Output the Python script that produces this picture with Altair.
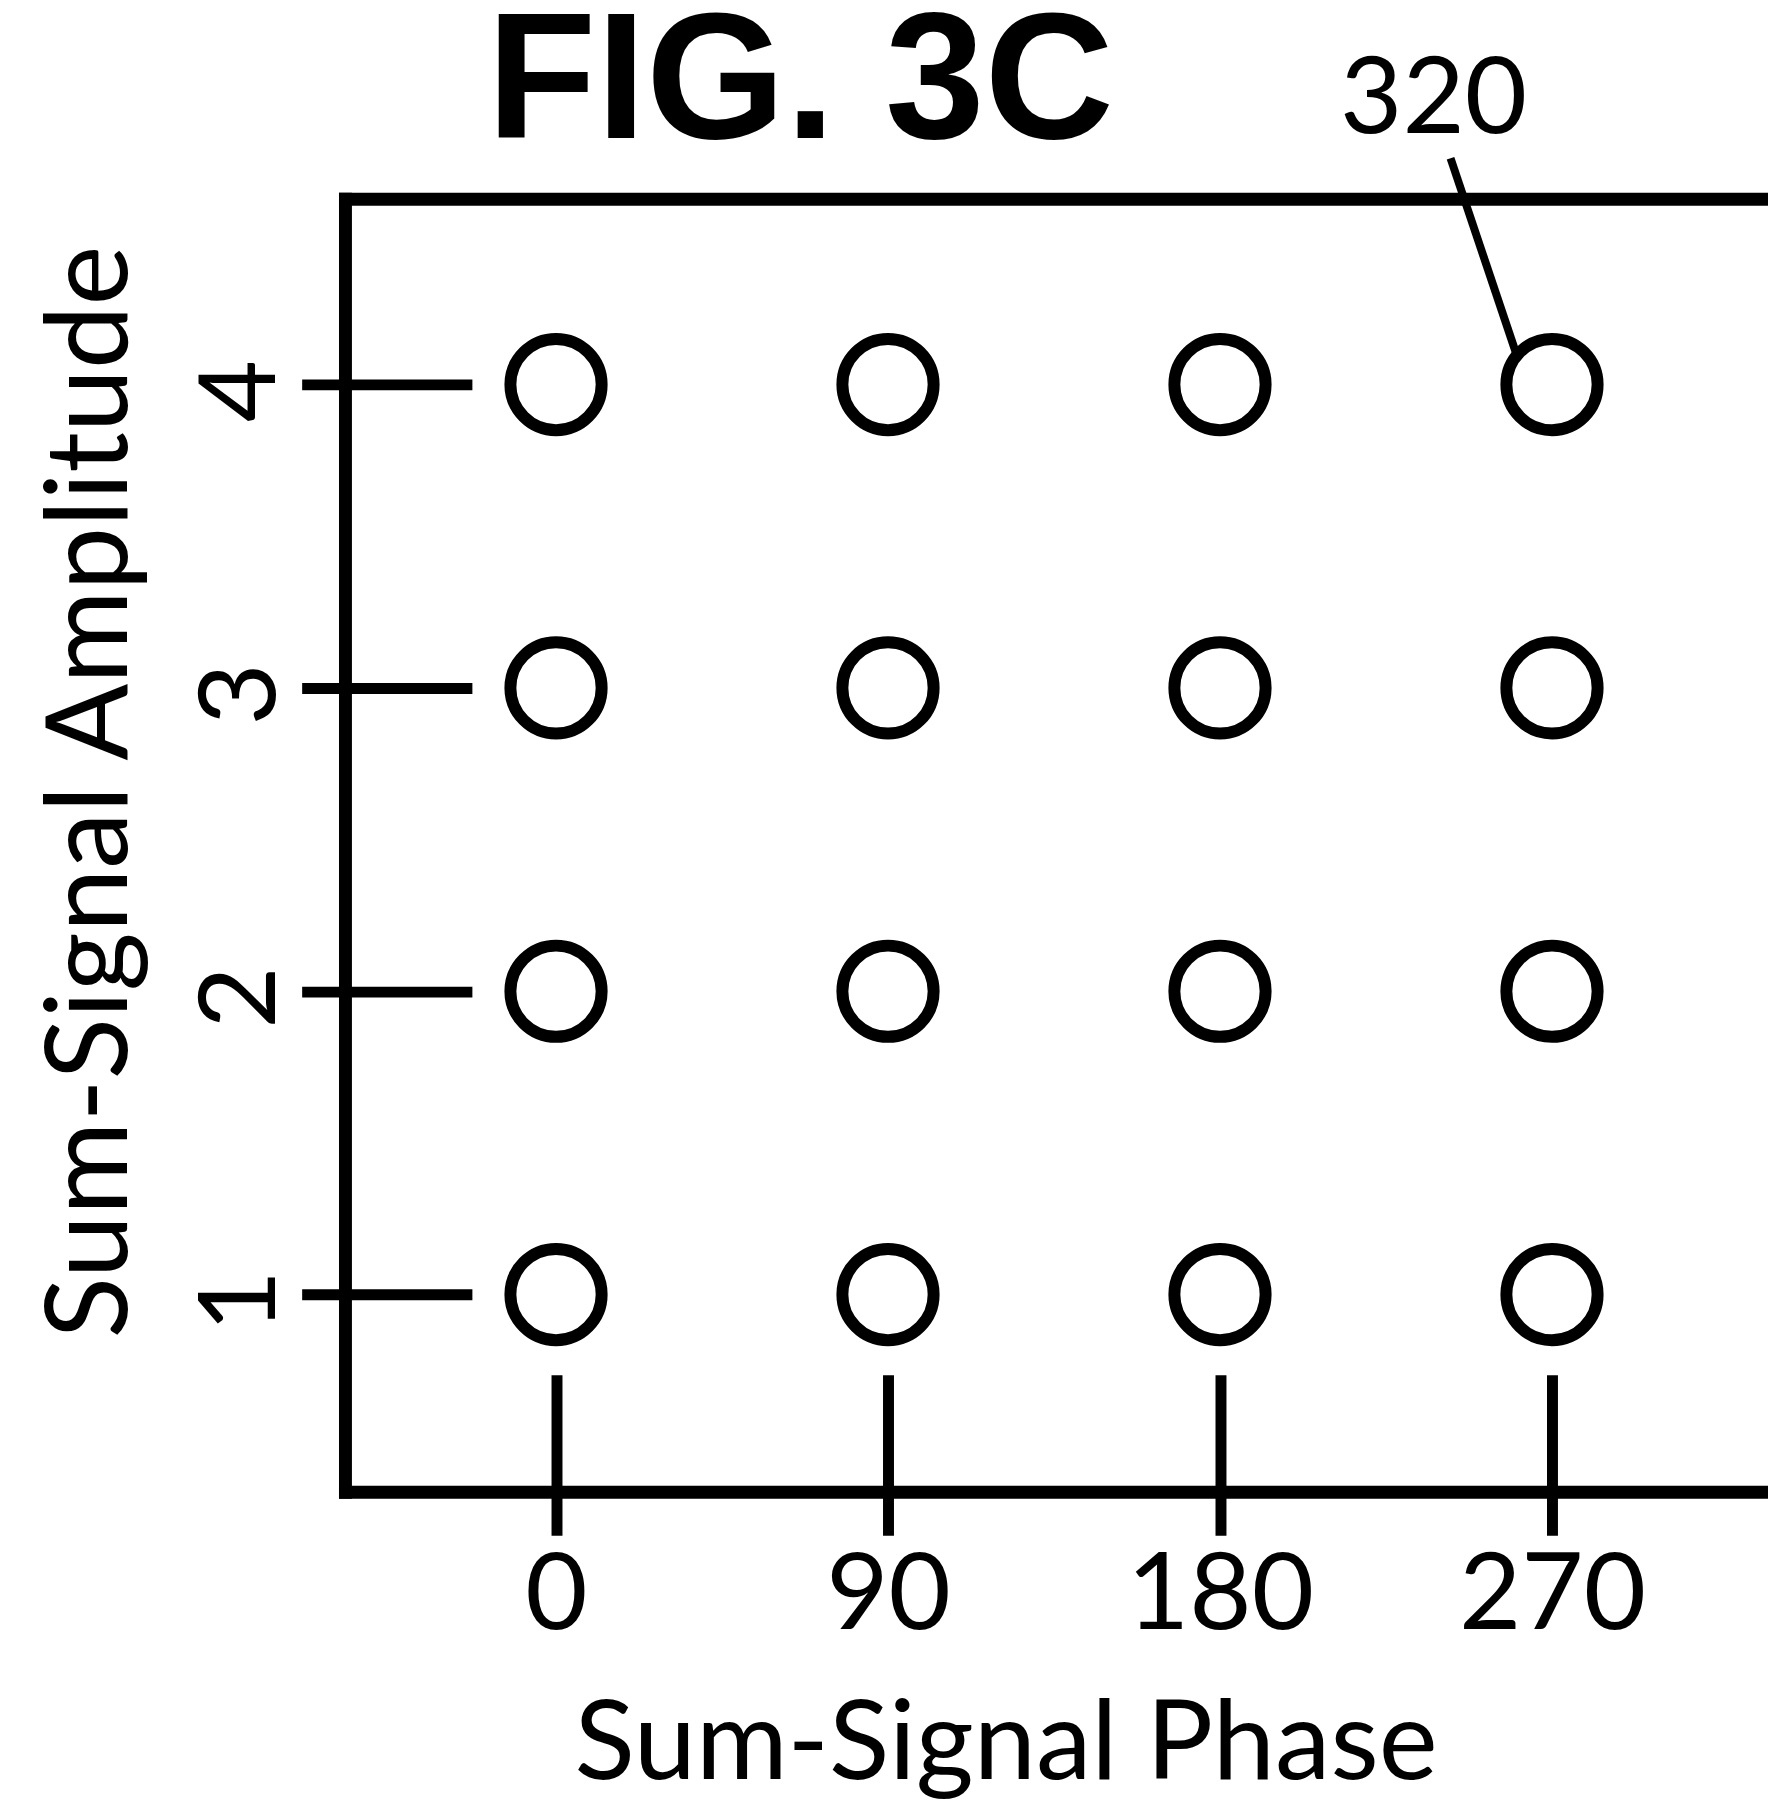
import altair as alt
import pandas as pd

# ---- data ----
phases = [0, 90, 180, 270]            # Sum-Signal Phase (deg)
amplitudes = [1, 2, 3, 4]             # Sum-Signal Amplitude levels
x_ticks = [0, 90, 180, 270]
y_ticks = [1, 2, 3, 4]
x_domain = [-57.08, 328.56]
y_domain = [0.348, 4.611]
callout_label = ["320"]
callout_text_at = [237.9, 4.828]       # phase, amplitude of the label
callout_line_from = [242.5, 4.746]     # leader line start (phase, amplitude)
callout_line_to = [260.3, 4.102]       # leader line end (phase, amplitude)

LABEL_FONT = "Lato"
LABEL_SIZE = 108
X_TITLE_SIZE = 112
Y_TITLE_SIZE = 114
TITLE_FONT = "Liberation Sans"

points = pd.DataFrame(
    [(p, a) for a in amplitudes for p in phases], columns=["phase", "amplitude"]
)
label_df = pd.DataFrame(
    {"phase": [callout_text_at[0]], "amplitude": [callout_text_at[1]], "label": callout_label}
)
leader_df = pd.DataFrame(
    {
        "phase": [callout_line_from[0]],
        "amplitude": [callout_line_from[1]],
        "phase2": [callout_line_to[0]],
        "amplitude2": [callout_line_to[1]],
    }
)
one = pd.DataFrame({"k": [0]})

xscale = alt.Scale(domain=x_domain, nice=False, zero=False)
yscale = alt.Scale(domain=y_domain, nice=False, zero=False)

x_axis = alt.Axis(
    values=x_ticks,
    format="d",
    title="Sum-Signal Phase",
    domain=False,
    grid=False,
    offset=-118,
    tickSize=161,
    tickWidth=11,
    tickColor="black",
    labelFont=LABEL_FONT,
    labelFontSize=LABEL_SIZE,
    labelColor="black",
    labelAngle=0,
    labelAlign="center",
    labelBaseline="alphabetic",
    labelPadding=94,
    labelFlush=False,
    labelOverlap=False,
    labelLimit=0,
    titleFont=LABEL_FONT,
    titleFontSize=X_TITLE_SIZE,
    titleFontWeight="normal",
    titleColor="black",
    titleAngle=0,
    titleAlign="center",
    titleBaseline="alphabetic",
    titleLimit=0,
    titleX=663,
    titleY=405,
)
y_axis = alt.Axis(
    values=y_ticks,
    format="d",
    title="Sum-Signal Amplitude",
    domain=False,
    grid=False,
    offset=-127,
    tickSize=171,
    tickWidth=11,
    tickColor="black",
    labelFont=LABEL_FONT,
    labelFontSize=LABEL_SIZE,
    labelColor="black",
    labelAngle=270,
    labelAlign="center",
    labelBaseline="alphabetic",
    labelPadding=27,
    labelOffset=6,
    labelOverlap=False,
    labelLimit=0,
    titleFont=LABEL_FONT,
    titleFontSize=Y_TITLE_SIZE,
    titleFontWeight="normal",
    titleColor="black",
    titleAngle=270,
    titleAlign="center",
    titleBaseline="alphabetic",
    titleLimit=0,
    titleX=-347,
    titleY=595,
)

circles = alt.Chart(points).mark_point(
    shape="circle", filled=False, size=8400, strokeWidth=12, color="black", opacity=1
).encode(
    x=alt.X("phase:Q", scale=xscale, axis=x_axis),
    y=alt.Y("amplitude:Q", scale=yscale, axis=y_axis),
)

frame_top = alt.Chart(one).mark_rule(strokeWidth=13, color="black", strokeCap="square").encode(
    y=alt.value(0)
)
frame_bottom = alt.Chart(one).mark_rule(strokeWidth=13, color="black", strokeCap="square").encode(
    y=alt.value("height")
)
frame_left = alt.Chart(one).mark_rule(strokeWidth=13, color="black", strokeCap="square").encode(
    x=alt.value(0)
)

leader = alt.Chart(leader_df).mark_rule(strokeWidth=8, color="black").encode(
    x=alt.X("phase:Q", scale=xscale),
    y=alt.Y("amplitude:Q", scale=yscale),
    x2="phase2:Q",
    y2="amplitude2:Q",
)

callout = alt.Chart(label_df).mark_text(
    font=LABEL_FONT, fontSize=LABEL_SIZE, align="center", baseline="alphabetic", color="black"
).encode(
    x=alt.X("phase:Q", scale=xscale),
    y=alt.Y("amplitude:Q", scale=yscale),
    text="label:N",
)

chart = (
    alt.layer(circles, frame_top, frame_bottom, frame_left, leader, callout)
    .properties(
        width=1429,
        height=1299,
        autosize=alt.AutoSizeParams(type="none"),
        padding={"left": 339, "top": 188, "right": 0, "bottom": 310},
        background="white",
        title=alt.TitleParams(
            "FIG. 3C",
            font=TITLE_FONT,
            fontSize=180,
            fontWeight="bold",
            color="black",
            anchor="start",
            frame="group",
            baseline="top",
            dx=142,
            dy=129,
            offset=0,
        ),
    )
    .configure_view(stroke=None)
)

chart.save("out.html", embed_options={"renderer": "svg", "actions": False})
